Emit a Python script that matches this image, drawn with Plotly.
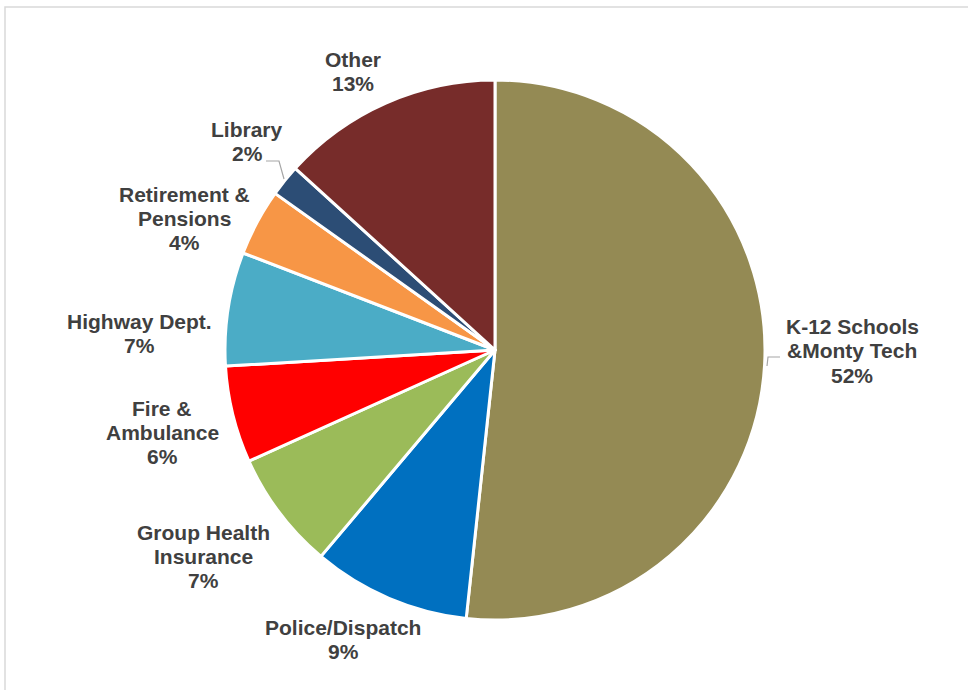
import plotly.graph_objects as go

W, H = 968, 690

categories = ["K-12 Schools<br>&Monty Tech", "Police/Dispatch", "Group Health<br>Insurance",
              "Fire &<br>Ambulance", "Highway Dept.", "Retirement &<br>Pensions", "Library", "Other"]
values = [51.7, 9.45, 7.1, 5.8, 6.8, 4.0, 1.9, 13.25]
pct_labels = ["52%", "9%", "7%", "6%", "7%", "4%", "2%", "13%"]
colors = ["#948A54", "#0070C0", "#9BBB59", "#FF0000", "#4BACC6", "#F79646", "#2C4D75", "#772C2A"]

# first-line centers of each label block, in pixels (layout only)
label_pos = [(852, 327), (343, 627), (203, 532), (162, 408), (139, 321), (184, 195), (247, 130), (353, 60)]
LINE = 24

cx, cy, r = 495, 350, 270

def px(x):
    return x / W

def py(y):
    return 1 - y / H

fig = go.Figure(go.Pie(
    labels=categories,
    values=values,
    sort=False,
    direction="clockwise",
    rotation=0,
    marker=dict(colors=colors, line=dict(color="white", width=3)),
    textinfo="none",
    hoverinfo="label+percent",
    showlegend=False,
    domain=dict(x=[px(cx - r), px(cx + r)], y=[py(cy + r), py(cy - r)]),
))

annotations = []
for lab, pct, (x, y) in zip(categories, pct_labels, label_pos):
    lines = lab.split("<br>") + [pct]
    for i, ln in enumerate(lines):
        annotations.append(dict(
            x=px(x), y=py(y + i * LINE), xref="paper", yref="paper",
            text="<b>" + ln + "</b>",
            showarrow=False, align="center", xanchor="center", yanchor="middle",
            font=dict(family="Liberation Sans, Arial, sans-serif", size=21, color="#404040"),
        ))

shapes = [
    # chart frame
    dict(type="rect", xref="paper", yref="paper", x0=px(5), x1=px(975), y0=py(698), y1=py(7),
         line=dict(color="#D9D9D9", width=1.5), fillcolor="rgba(0,0,0,0)"),
    # leader lines
    dict(type="path", xref="paper", yref="paper",
         path=f"M {px(767)},{py(366)} L {px(768)},{py(357)} L {px(780)},{py(357)}",
         line=dict(color="#A6A6A6", width=1.2)),
    dict(type="path", xref="paper", yref="paper",
         path=f"M {px(266)},{py(161)} L {px(279)},{py(161)} L {px(284)},{py(179)}",
         line=dict(color="#A6A6A6", width=1.2)),
]

fig.update_layout(
    width=W, height=H,
    margin=dict(l=0, r=0, t=0, b=0),
    paper_bgcolor="white", plot_bgcolor="white",
    annotations=annotations,
    shapes=shapes,
)

fig.write_html("out.html", config={"displayModeBar": False},
               post_script="document.body.style.margin='0';")
